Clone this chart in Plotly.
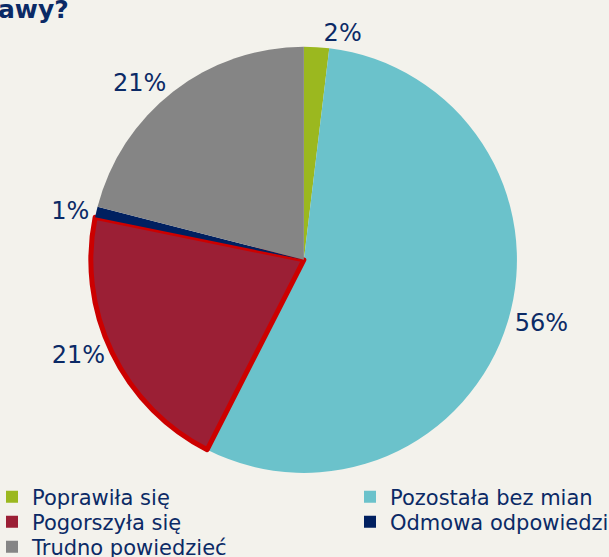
import plotly.graph_objects as go

# data
labels = ["Poprawiła się", "Pozostała bez mian", "Pogorszyła się",
          "Odmowa odpowiedzi", "Trudno powiedzieć"]
values = [1.9, 55.6, 20.7, 0.8, 21.0]

colors = ["#9bb81f", "#6bc2cb", "#9b1f35", "#002060", "#858585"]
border_widths = [0, 0, 5, 0, 0]
border_colors = ["#f3f2ec", "#f3f2ec", "#cc0000", "#f3f2ec", "#f3f2ec"]

NAVY = "#0b2a66"
BG = "#f3f2ec"

fig = go.Figure(go.Pie(
    labels=labels,
    values=values,
    sort=False,
    direction="clockwise",
    rotation=0,
    marker=dict(colors=colors, line=dict(color=border_colors, width=border_widths)),
    textposition="outside",
    texttemplate="%{percent:.0%}",
    outsidetextfont=dict(size=24, color=NAVY, family="DejaVu Sans"),
    hoverinfo="label+percent",
    domain=dict(x=[0.149, 0.849], y=[0.151, 0.916]),
    automargin=False,
    showlegend=False,
))

# legend: two columns, tight rows -> one small legend per entry
# (x in px of legend box, row index)
legend_slots = [(-8, 0), (350, 0), (-8, 1), (350, 1), (-8, 2)]
row_px = [497, 522, 547]

legend_layout = {}
for i, (lab, col) in enumerate(zip(labels, colors)):
    name = "legend" if i == 0 else f"legend{i + 1}"
    fig.add_trace(go.Scatter(
        x=[None], y=[None], mode="markers", name=lab,
        marker=dict(symbol="square", size=12, color=col),
        legend=name, showlegend=True, hoverinfo="skip",
    ))
    px_x, row = legend_slots[i]
    legend_layout[name] = dict(
        x=px_x / 609, y=1 - row_px[row] / 557,
        xanchor="left", yanchor="middle",
        orientation="v", itemwidth=30,
        font=dict(size=21, color=NAVY, family="DejaVu Sans"),
        bgcolor="rgba(0,0,0,0)",
    )

# title cut off at the left edge, as in the source image
fig.add_annotation(
    text="<b>awy?</b>", x=-0.006, y=1.012, xref="paper", yref="paper",
    xanchor="left", yanchor="top", showarrow=False,
    font=dict(size=25, color=NAVY, family="DejaVu Sans"),
)

fig.update_layout(
    width=609, height=557,
    margin=dict(l=0, r=0, t=0, b=0, autoexpand=False),
    paper_bgcolor=BG, plot_bgcolor=BG,
    font=dict(family="DejaVu Sans", color=NAVY),
    xaxis=dict(visible=False), yaxis=dict(visible=False),
    **legend_layout,
)

fig.write_html("out.html", config={"displayModeBar": False},
               post_script="document.body.style.margin='0';")
